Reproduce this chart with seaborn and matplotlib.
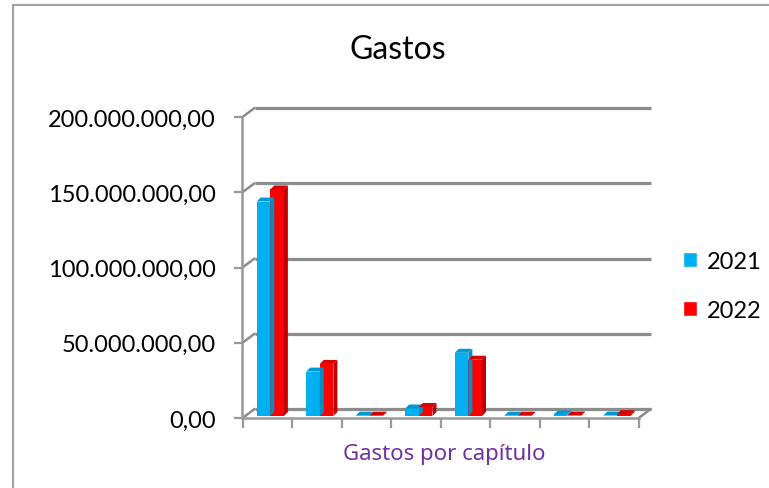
import matplotlib
matplotlib.use('Agg')
import matplotlib.pyplot as plt
import matplotlib.transforms as mtransforms
from matplotlib.lines import Line2D
from matplotlib.patches import Polygon, Patch
import pandas as pd
import seaborn as sns

# valores (euros)
CAPITULOS = ['Cap. 1', 'Cap. 2', 'Cap. 3', 'Cap. 4',
             'Cap. 5', 'Cap. 6', 'Cap. 7', 'Cap. 8']
GASTOS_2021 = [142.5e6, 29.5e6, 0.2e6, 5.0e6, 42.0e6, 0.2e6, 1.0e6, 0.3e6]
GASTOS_2022 = [150.5e6, 34.6e6, 0.2e6, 6.0e6, 37.4e6, 0.2e6, 0.3e6, 1.2e6]
ANIOS = ['2021', '2022']
Y_TICKS = [0, 50e6, 100e6, 150e6, 200e6]

AZUL, ROJO = '#00B0F0', '#FF0000'
LADOS = {AZUL: '#0090C8', ROJO: '#C00000'}
TAPAS = {AZUL: '#0099D6', ROJO: '#D80000'}
GRIS = '#8C8C8C'


def euros(v):
    s = f'{v:,.2f}'
    return s.replace(',', 'X').replace('.', ',').replace('X', '.')


df = pd.DataFrame({
    'capitulo': CAPITULOS * 2,
    'anio': [ANIOS[0]] * len(CAPITULOS) + [ANIOS[1]] * len(CAPITULOS),
    'gasto': GASTOS_2021 + GASTOS_2022,
})

sns.set_style('white')
plt.rcParams['font.family'] = ['Lato', 'DejaVu Sans']
plt.rcParams['text.color'] = 'black'

fig = plt.figure(figsize=(7.69, 4.89), dpi=100)
W, H = 769, 489
ax = fig.add_axes([242.5 / W, 70 / H, 396.2 / W, 301 / H])

sns.barplot(data=df, x='capitulo', y='gasto', hue='anio',
            palette=[AZUL, ROJO], width=0.55, saturation=1,
            legend=False, ax=ax, zorder=3)

ax.set_xlim(-0.5, len(CAPITULOS) - 0.5)
ax.set_ylim(0, 200e6)

# 3D look: offsets in pixels
fondo = mtransforms.offset_copy(ax.transData, fig=fig, x=12, y=9, units='dots')
desp = mtransforms.offset_copy(ax.transData, fig=fig, x=3, y=2, units='dots')
px_x = len(CAPITULOS) / 396.2
px_y = 200e6 / 301
dx, dy = 4 * px_x, 4 * px_y

barras = list(ax.patches)
for p in barras:
    color = matplotlib.colors.to_hex(p.get_facecolor()).upper()
    x0, w, h = p.get_x(), p.get_width(), p.get_height()
    x1 = x0 + w
    p.set_transform(desp)
    p.set_edgecolor('none')
    lado = Polygon([(x1, 0), (x1 + dx, dy), (x1 + dx, h + dy), (x1, h)],
                   closed=True, facecolor=LADOS.get(color, color),
                   edgecolor='none', transform=desp, zorder=3)
    tapa = Polygon([(x0, h), (x0 + dx, h + dy), (x1 + dx, h + dy), (x1, h)],
                   closed=True, facecolor=TAPAS.get(color, color),
                   edgecolor='none', transform=desp, zorder=3)
    ax.add_patch(lado)
    ax.add_patch(tapa)

# back wall gridlines
xa, xb = -0.5, len(CAPITULOS) - 0.5
for yv in Y_TICKS:
    ax.plot([xa, xb], [yv, yv], color=GRIS, lw=2.3, transform=fondo,
            clip_on=False, zorder=1, solid_capstyle='butt')

# side wall diagonals, pixel space
for yv in Y_TICKS:
    x_f, y_f = ax.transData.transform((xa, yv))
    ax.add_line(Line2D([x_f, x_f + 12], [y_f, y_f + 9], color=GRIS, lw=1.8,
                       transform=None, clip_on=False, zorder=1))

# floor right edge
xr, yr = ax.transData.transform((xb, 0))
ax.add_line(Line2D([xr, xr + 12], [yr, yr + 9], color=GRIS, lw=1.8,
                   transform=None, clip_on=False, zorder=2))

for s in ['top', 'right']:
    ax.spines[s].set_visible(False)
for s in ['left', 'bottom']:
    ax.spines[s].set_color('#999999')
    ax.spines[s].set_linewidth(1.8)

ax.set_yticks(Y_TICKS)
ax.set_yticklabels([euros(v) for v in Y_TICKS], fontsize=17)
ax.tick_params(axis='y', length=6, width=1.6, color='#999999', pad=13,
               left=True, labelcolor='black')
ax.set_xticks(range(len(CAPITULOS)))
ax.set_xticklabels([])
ax.tick_params(axis='x', which='major', length=0)
ax.set_xticks([i - 0.5 for i in range(len(CAPITULOS) + 1)], minor=True)
ax.tick_params(axis='x', which='minor', length=7, width=1.6,
               color='#999999', bottom=True)
ax.set_xlabel('')
ax.set_ylabel('')
ax.patch.set_alpha(0)

fig.text(398 / W, 1 - 50 / H, 'Gastos', fontsize=23, ha='center',
         va='center', color='black')
fig.text(444 / W, 1 - 455 / H, 'Gastos por capítulo', fontsize=16,
         color='#7030A0', ha='center', va='center', family=['Noto Sans'])

handles = [Patch(facecolor=AZUL, label=ANIOS[0]),
           Patch(facecolor=ROJO, label=ANIOS[1])]
fig.legend(handles=handles, loc='center left',
           bbox_to_anchor=(662 / W, 1 - 287 / H), frameon=False,
           fontsize=17, handlelength=0.6, handleheight=0.6,
           handletextpad=0.4, labelspacing=1.2, labelcolor='black')

# chart border
fig.add_artist(Line2D([13 / W, 13 / W], [0, 1 - 6 / H], color='#A0A0A0',
                      lw=1.5, transform=fig.transFigure))
fig.add_artist(Line2D([13 / W, 1], [1 - 6 / H, 1 - 6 / H], color='#A0A0A0',
                      lw=1.5, transform=fig.transFigure))

fig.savefig('out.png', dpi=100)
